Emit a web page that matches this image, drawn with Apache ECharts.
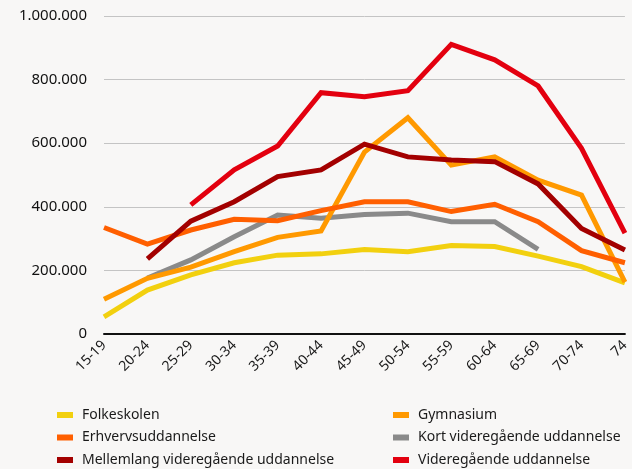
<!DOCTYPE html>
<html><head><meta charset="utf-8">
<script src="https://cdn.jsdelivr.net/npm/echarts@6/dist/echarts.min.js"></script>
<style>html,body{margin:0;padding:0;background:#f8f7f6;}#c{width:632px;height:469px;}</style>
</head><body><div id="c"></div>
<script>
const categories = ['15-19','20-24','25-29','30-34','35-39','40-44','45-49','50-54','55-59','60-64','65-69','70-74','74'];
const folkeskolen = [54000,138000,186000,224000,248000,252000,266000,259000,278000,275000,245000,212000,161000];
const gymnasium = [109000,175000,210000,259000,304000,324000,572000,680000,531000,557000,484000,437000,163000];
const erhverv = [335000,283000,327000,361000,356000,388000,416000,416000,385000,408000,353000,262000,224000];
const kort = [null,176000,233000,306000,374000,364000,376000,380000,353000,353000,266000,null,null];
const mellemlang = [null,236000,355000,416000,495000,516000,597000,557000,547000,542000,472000,332000,264000];
const videregaaende = [null,null,406000,516000,591000,759000,746000,765000,911000,862000,780000,584000,317000];
const yTicks = [0,200000,400000,600000,800000,1000000];

const names = ['Folkeskolen','Gymnasium','Erhvervsuddannelse','Kort videregående uddannelse','Mellemlang videregående uddannelse','Videregående uddannelse'];
const colors = ['#f2d00f','#ff9900','#ff5f00','#8a8a8a','#a30000','#e3000f'];
const datas = [folkeskolen,gymnasium,erhverv,kort,mellemlang,videregaaende];
const order = [0,3,1,2,4,5];
const font = '"Noto Sans", sans-serif';

const chart = echarts.init(document.getElementById('c'));
const fmt = v => String(v).replace(/\B(?=(\d{3})+(?!\d))/g, '.');
const legendBase = {orient:'vertical', icon:'rect', itemWidth:16, itemHeight:6, itemGap:6.5, height:120,
  textStyle:{fontFamily:font, fontSize:14, color:'#1a1a1a', lineHeight:16, padding:[0,0,0,4]}};
chart.setOption({
  backgroundColor:'#f8f7f6',
  animation:false,
  grid:{left:104, right:5, top:16, bottom:135, containLabel:false},
  legend:[
    Object.assign({}, legendBase, {left:52, top:402, data:[names[0],names[2],names[4]]}),
    Object.assign({}, legendBase, {left:388, top:402, data:[names[1],names[3],names[5]]})
  ],
  xAxis:{type:'category', boundaryGap:false, data:categories,
    axisLine:{lineStyle:{color:'#111', width:2}}, axisTick:{show:false},
    axisLabel:{rotate:45, margin:9, interval:0, fontFamily:font, fontSize:14, color:'#1a1a1a'}},
  yAxis:{type:'value', min:0, max:1000000, interval:200000,
    axisLine:{show:false}, axisTick:{show:false},
    splitLine:{lineStyle:{color:'#c4c4c4', width:1}},
    axisLabel:{margin:17, fontFamily:font, fontSize:15, color:'#111', formatter:fmt}},
  series: order.map((i,k) => ({name:names[i], type:'line', data:datas[i], symbol:'none',
    lineStyle:{color:colors[i], width:5, cap:'butt', join:'miter'}, itemStyle:{color:colors[i]}, z:2+k}))
});
</script></body></html>
